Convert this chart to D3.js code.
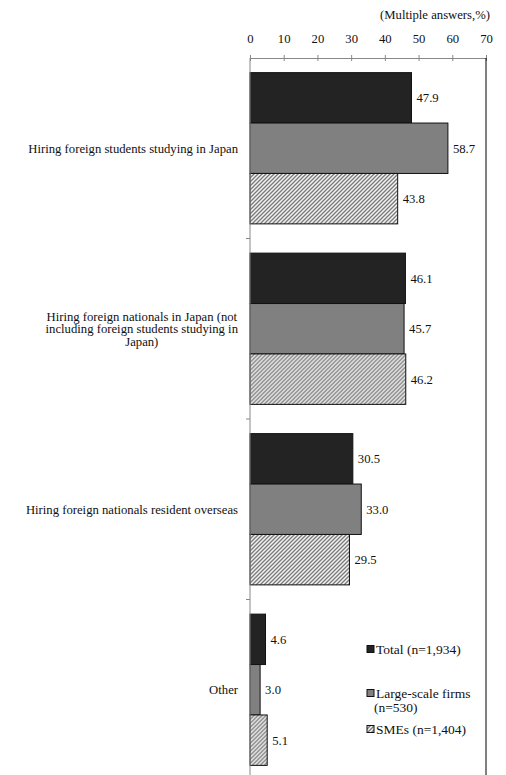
<!DOCTYPE html>
<html>
<head>
<meta charset="utf-8">
<script src="https://cdn.jsdelivr.net/npm/d3@7"></script>
<style>
  body { margin: 0; background: #fff; }
  text { font-family: "Liberation Serif", "Times New Roman", serif; font-size: 12.7px; fill: #111; }
</style>
</head>
<body>
<script>
// the data
var categories = [
  ["Hiring foreign students studying in Japan"],
  ["Hiring foreign nationals in Japan (not", "including foreign students studying in", "Japan)"],
  ["Hiring foreign nationals resident overseas"],
  ["Other"]
];
var seriesNames = ["Total (n=1,934)", "Large-scale firms|(n=530)", "SMEs (n=1,404)"];
var totalValues = [47.9, 46.1, 30.5, 4.6];
var largeValues = [58.7, 45.7, 33.0, 3.0];
var smeValues = [43.8, 46.2, 29.5, 5.1];
var xTicks = [0, 10, 20, 30, 40, 50, 60, 70];

var seriesValues = [totalValues, largeValues, smeValues];

// set the dimensions and margins of the graph
var margin = {top: 58, right: 20, bottom: 0, left: 250},
    width = 486 - margin.left,
    height = 722;

var svg = d3.select("body").append("svg")
    .attr("width", 506)
    .attr("height", 775);

// hatch pattern for SMEs
var defs = svg.append("defs");
var pat = defs.append("pattern")
    .attr("id", "hatch")
    .attr("patternUnits", "userSpaceOnUse")
    .attr("width", 4)
    .attr("height", 4);
pat.append("rect").attr("width", 4).attr("height", 4).attr("fill", "#f2f2f2");
pat.append("path")
    .attr("d", "M-1,1 l2,-2 M0,4 l4,-4 M3,5 l2,-2")
    .attr("stroke", "#7a7a7a")
    .attr("stroke-width", 1.3);

var fills = ["#232323", "#808080", "url(#hatch)"];

var g = svg.append("g")
    .attr("transform", "translate(" + margin.left + "," + margin.top + ")");

// set the ranges
var x = d3.scaleLinear().domain([0, 70]).range([0, width]);
var y0 = d3.scaleBand()
    .domain(d3.range(categories.length))
    .range([0, height]);
var y1 = d3.scaleBand()
    .domain(d3.range(seriesNames.length))
    .range([0, y0.bandwidth()])
    .paddingOuter(0.29);

// bars
categories.forEach(function(c, i) {
  var grp = g.append("g").attr("transform", "translate(0," + y0(i) + ")");
  seriesValues.forEach(function(vals, s) {
    grp.append("rect")
        .attr("x", x(0))
        .attr("y", y1(s))
        .attr("width", x(vals[i]) - x(0))
        .attr("height", y1.bandwidth())
        .attr("fill", fills[s])
        .attr("stroke", "#111")
        .attr("stroke-width", 1);
    grp.append("text")
        .attr("x", x(vals[i]) + 5)
        .attr("y", y1(s) + y1.bandwidth() / 2)
        .attr("dy", "0.35em")
        .text(vals[i].toFixed(1));
  });
});

// top axis
var xAxis = g.append("g")
    .call(d3.axisTop(x).tickValues(xTicks).tickSize(3).tickSizeOuter(0).tickFormat(d3.format("d")));
xAxis.select(".domain").attr("stroke", "#888");
xAxis.selectAll(".tick line").attr("stroke", "#888").attr("y2", -3).attr("y1", 3);
xAxis.selectAll(".tick text")
    .attr("y", -15)
    .style("font-family", "'Liberation Serif', serif")
    .style("font-size", "12.7px")
    .attr("fill", "#111");

// left axis with ticks between categories
g.append("line")
    .attr("x1", 0).attr("x2", 0)
    .attr("y1", 0).attr("y2", height)
    .attr("stroke", "#888");
g.selectAll(".cat-tick")
    .data(d3.range(1, categories.length))
  .enter().append("line")
    .attr("x1", -4).attr("x2", 0)
    .attr("y1", function(d) { return y0(d); })
    .attr("y2", function(d) { return y0(d); })
    .attr("stroke", "#888");

// right border
g.append("line")
    .attr("x1", width).attr("x2", width)
    .attr("y1", 0).attr("y2", height)
    .attr("stroke", "#000");

// category labels
var lineH = 12.5;
categories.forEach(function(lines, i) {
  var cy = y0(i) + y0.bandwidth() / 2;
  var t = g.append("text").attr("text-anchor", "middle");
  lines.forEach(function(l, k) {
    t.append("tspan")
        .attr("y", cy + (k - (lines.length - 1) / 2) * lineH)
        .attr("dy", "0.35em")
        .text(l);
  });
  var maxW = 0;
  t.selectAll("tspan").each(function() { maxW = Math.max(maxW, this.getComputedTextLength()); });
  t.selectAll("tspan").attr("x", -12 - maxW / 2);
});

// legend
var legendY = [649, 693, 729];
var lg = svg.append("g");
seriesNames.forEach(function(name, s) {
  lg.append("rect")
      .attr("x", 367)
      .attr("y", legendY[s] - 3.5)
      .attr("width", 7)
      .attr("height", 7)
      .attr("fill", fills[s])
      .attr("stroke", "#111");
  var t = lg.append("text").style("font-size", "13.5px");
  name.split("|").forEach(function(l, k) {
    t.append("tspan")
        .attr("x", k === 0 ? 376 : 374)
        .attr("y", legendY[s] + k * 14)
        .attr("dy", "0.35em")
        .text(l);
  });
});

// note
svg.append("text")
    .attr("x", 490)
    .attr("y", 15)
    .attr("dy", "0.35em")
    .attr("text-anchor", "end")
    .text("(Multiple answers,%)");
</script>
</body>
</html>
